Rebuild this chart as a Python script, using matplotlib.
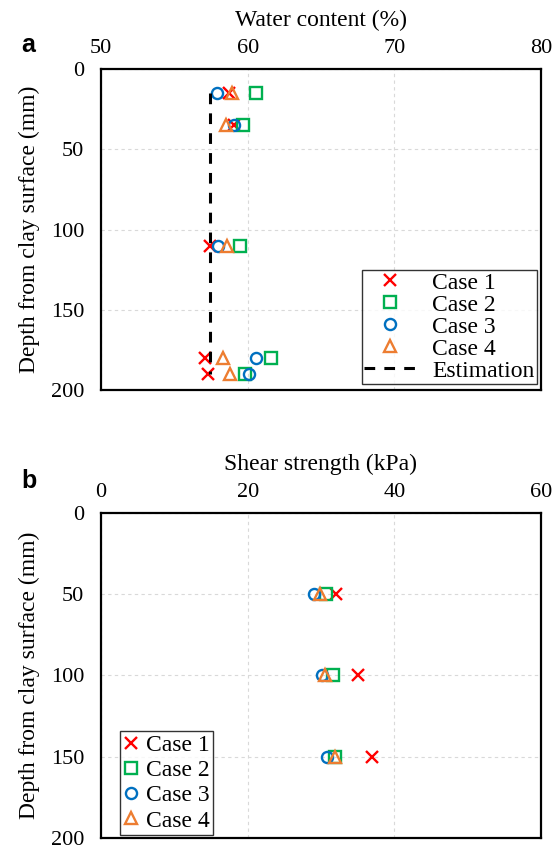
import matplotlib
matplotlib.use("Agg")
import matplotlib.pyplot as plt

plt.rcParams["font.family"] = ["Liberation Serif", "DejaVu Serif"]

# water content (%) at each depth (mm)
depth_a = [15, 35, 110, 180, 190]
wc_case1 = [58.7, 59.05, 57.4, 57.1, 57.3]
wc_case2 = [60.6, 59.7, 59.5, 61.6, 59.8]
wc_case3 = [57.9, 59.1, 57.95, 60.6, 60.1]
wc_case4 = [58.9, 58.5, 58.6, 58.3, 58.8]
est_wc = [57.4, 57.4]
est_depth = [15, 190]

# shear strength (kPa)
depth_b = [50, 100, 150]
ss_case1 = [32.0, 35.1, 36.9]
ss_case2 = [30.65, 31.6, 31.85]
ss_case3 = [29.1, 30.15, 30.8]
ss_case4 = [29.8, 30.5, 31.9]

styles = [
    ("Case 1", "x", "#FF0000"),
    ("Case 2", "s", "#00B050"),
    ("Case 3", "o", "#0070C0"),
    ("Case 4", "^", "#ED7D31"),
]

fig = plt.figure(figsize=(5.59, 8.51), dpi=100)
ax1 = fig.add_axes([0.1807, 0.5417, 0.787, 0.3772])
ax2 = fig.add_axes([0.1807, 0.0153, 0.787, 0.3819])


def style_axis(ax):
    ax.xaxis.set_ticks_position("top")
    ax.xaxis.set_label_position("top")
    ax.grid(True, color="#d9d9d9", linestyle=(0, (3, 3)), linewidth=0.8)
    ax.set_axisbelow(True)
    ax.tick_params(axis="y", length=0, labelsize=16, pad=12)
    ax.tick_params(axis="x", length=0, labelsize=16, pad=8)
    for s in ax.spines.values():
        s.set_linewidth(1.6)
    ax.set_ylabel("Depth from clay surface (mm)", fontsize=17, labelpad=8)


for (lab, mk, col), vals in zip(styles, [wc_case1, wc_case2, wc_case3, wc_case4]):
    ax1.plot(vals, depth_a, linestyle="none", marker=mk, markersize=8,
             markerfacecolor="none", markeredgecolor=col, markeredgewidth=1.7,
             label=lab)
ax1.plot(est_wc, est_depth, color="black", linestyle=(0, (3.5, 3)),
         linewidth=2.2, label="Estimation")
ax1.set_xlim(50, 80)
ax1.set_xticks([50, 60, 70, 80])
ax1.set_yticks([0, 50, 100, 150, 200])
style_axis(ax1)
ax1.set_ylim(200, 0)
ax1.set_xlabel("Water content (%)", fontsize=17, labelpad=9)
leg1 = ax1.legend(loc="lower right", fontsize=17, frameon=True, fancybox=False,
                  edgecolor="black", handlelength=2.25, borderpad=0.1,
                  labelspacing=0.02, handletextpad=0.65, borderaxespad=0,
                  bbox_to_anchor=(0.991, 0.019))
leg1.get_frame().set_linewidth(1.0)

for (lab, mk, col), vals in zip(styles, [ss_case1, ss_case2, ss_case3, ss_case4]):
    ax2.plot(vals, depth_b, linestyle="none", marker=mk, markersize=8,
             markerfacecolor="none", markeredgecolor=col, markeredgewidth=1.7,
             label=lab)
ax2.set_xlim(0, 60)
ax2.set_xticks([0, 20, 40, 60])
ax2.set_yticks([0, 50, 100, 150, 200])
style_axis(ax2)
ax2.set_ylim(200, 0)
ax2.set_xlabel("Shear strength (kPa)", fontsize=17, labelpad=9)
leg2 = ax2.legend(loc="lower left", fontsize=17, frameon=True, fancybox=False,
                  edgecolor="black", handlelength=0.6, borderpad=0.15,
                  labelspacing=0.15, handletextpad=0.35, borderaxespad=0,
                  bbox_to_anchor=(0.043, 0.009))
leg2.get_frame().set_linewidth(1.0)

fig.text(0.038, 0.947, "a", fontsize=18, fontweight="bold",
         family="Liberation Sans", va="center")
fig.text(0.038, 0.435, "b", fontsize=18, fontweight="bold",
         family="Liberation Sans", va="center")

fig.savefig("out.png", dpi=100)
